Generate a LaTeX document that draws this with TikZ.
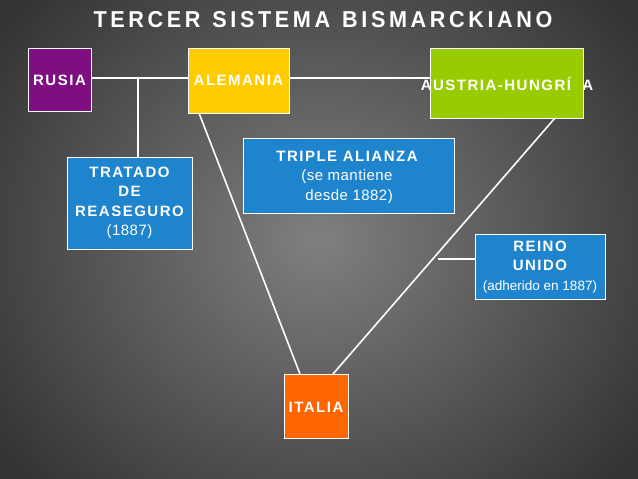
\documentclass[tikz,border=0pt]{standalone}
\usepackage{fontspec}
\setmainfont{Liberation Sans}
\newcommand{\bt}[1]{{\bfseries\addfontfeatures{LetterSpace=10}#1}}
\newcommand{\rt}[1]{{\addfontfeatures{LetterSpace=3}#1}}
\begin{document}
\begin{tikzpicture}[x=1pt,y=-1pt,
  box/.style={draw=white,line width=0.8pt,inner sep=0pt},
  lab/.style={text=white,align=center,font=\fontsize{15}{19.5}\selectfont},
  ln/.style={draw=white,line width=1.6pt}]
\useasboundingbox (0,0) rectangle (638,479);
\shade[inner color=black!50,outer color=black!80] (-80,-120) rectangle (718,599);
\node[text=white,font=\bfseries\fontsize{23}{24}\selectfont,xscale=0.94] (title) at (323,20) {T\,E\,R\,C\,E\,R\ \ S\,I\,S\,T\,E\,M\,A\ \ B\,I\,S\,M\,A\,R\,C\,K\,I\,A\,N\,O};
\definecolor{rus}{HTML}{7F0F80}
\definecolor{ale}{HTML}{FFCC00}
\definecolor{aus}{HTML}{99CC00}
\definecolor{blu}{HTML}{1E84CE}
\definecolor{ita}{HTML}{FF6600}
\node[box,fill=rus,minimum width=63pt,minimum height=63pt,anchor=north west] (rusia) at (28,48) {};
\node[lab] (trus) at (59.5,80) {\bt{RUSIA}};
\node[box,fill=ale,minimum width=101pt,minimum height=65pt,anchor=north west] (ale) at (188,48) {};
\node[lab] (tale) at (238.5,80) {\bt{ALEMANIA}};
\node[box,fill=aus,minimum width=153pt,minimum height=70pt,anchor=north west] (aus) at (430,48) {};
\node[lab] (taus) at (507,84) {\bt{AUSTRIA-HUNGRÍ\ \ A}};
\node[box,fill=blu,minimum width=125pt,minimum height=92pt,anchor=north west] (tra) at (67,157) {};
\node[lab] (ttra) at (129.5,203) {\bt{TRATADO}\\\bt{DE}\\\bt{REASEGURO}\\\rt{(1887)}};
\node[box,fill=blu,minimum width=211pt,minimum height=75pt,anchor=north west] (tri) at (243,138) {};
\node[lab] (ttri) at (347,177) {\bt{TRIPLE ALIANZA}\\\rt{(se mantiene}\\\ \rt{desde 1882)}};
\node[box,fill=blu,minimum width=130pt,minimum height=65pt,anchor=north west] (rei) at (475,234) {};
\node[lab] (trei) at (540,267) {\bt{REINO}\\\bt{UNIDO}\\{\fontsize{13.5}{19.5}\selectfont(adherido en 1887)}};
\node[box,fill=ita,minimum width=64pt,minimum height=64pt,anchor=north west] (ita) at (284,374) {};
\node[lab] (tita) at (316,407) {\bt{ITALIA}};
\coordinate (j1) at (138,78);
\coordinate (j2) at (438,259);
\draw[ln] (rusia.east|-j1) -- (ale.west|-j1);
\draw[ln] (ale.east|-j1) -- (aus.west|-j1);
\draw[ln] (j1) -- (j1|-tra.north);
\draw[ln] (199,113) -- (300,374);
\draw[ln] (555,118) -- (333,374);
\draw[ln] (j2) -- (rei.west|-j2);
\end{tikzpicture}
\end{document}
